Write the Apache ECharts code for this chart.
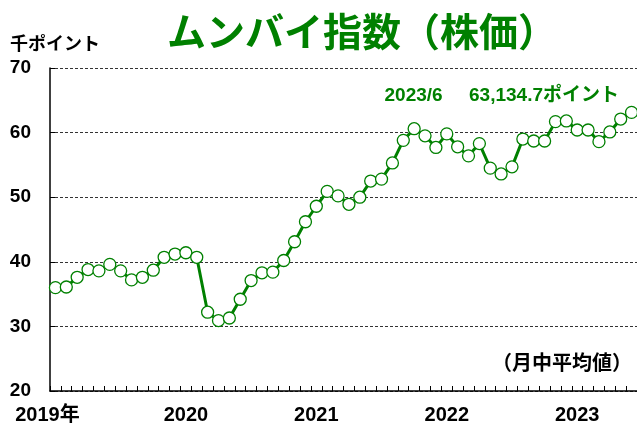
<!DOCTYPE html>
<html>
<head>
<meta charset="utf-8">
<script src="https://cdn.jsdelivr.net/npm/echarts@6/dist/echarts.min.js"></script>
<style>
  html, body { margin: 0; padding: 0; background: #fff; }
  #myChart { width: 637px; height: 430px; }
</style>
</head>
<body>
<div id="myChart"></div>
<script>
// 月中平均値 (千ポイント), 2019/1 - 2023/6
var months = [];
for (var y = 2019; y <= 2023; y++) {
  for (var m = 1; m <= 12; m++) {
    if (y === 2023 && m > 6) break;
    months.push(y + '/' + m);
  }
}
var indexValues = [
  36.0, 36.1, 37.6, 38.8, 38.6, 39.6, 38.6, 37.2, 37.6, 38.7, 40.7, 41.2,
  41.4, 40.7, 32.2, 30.9, 31.3, 34.2, 37.1, 38.3, 38.4, 40.2, 43.1, 46.2,
  48.6, 50.9, 50.2, 48.9, 50.0, 52.5, 52.8, 55.3, 58.8, 60.6, 59.5, 57.7,
  59.8, 57.8, 56.4, 58.3, 54.5, 53.6, 54.7, 59.0, 58.7, 58.7, 61.7, 61.8,
  60.4, 60.4, 58.6, 60.1, 62.1, 63.13
];
var yTicks = [20, 30, 40, 50, 60, 70];

var green = '#008000';
var latinFont = '"Liberation Sans", Arial, "Noto Sans CJK JP", sans-serif';
var cjkFont = '"Noto Sans CJK JP", sans-serif';

var option = {
  animation: false,
  backgroundColor: '#fff',
  title: {
    text: 'ムンバイ指数（株価）',
    left: 162,
    top: 7,
    textStyle: { color: green, fontSize: 39, fontWeight: 'bold', fontFamily: cjkFont }
  },
  graphic: [
    {
      type: 'text', left: 10, top: 34,
      style: { text: '千ポイント', fill: '#000', font: 'bold 18px ' + cjkFont }
    },
    {
      type: 'text', right: 18, top: 86,
      style: { text: '2023/6     63,134.7ポイント', fill: green, font: 'bold 19px ' + latinFont }
    },
    {
      type: 'text', right: 5, top: 352,
      style: { text: '（月中平均値）', fill: '#000', font: 'bold 20px ' + cjkFont }
    }
  ],
  grid: { left: 50, right: -4, top: 68, bottom: 39 },
  xAxis: {
    type: 'category',
    data: months,
    boundaryGap: true,
    axisLine: { lineStyle: { color: '#000', width: 1.5 } },
    axisTick: { show: true, inside: true, length: 5, interval: 0, alignWithLabel: false, lineStyle: { color: '#000', width: 1 } },
    axisLabel: {
      interval: 0,
      margin: 14,
      color: '#000',
      fontSize: 20,
      fontWeight: 'bold',
      fontFamily: latinFont,
      formatter: function (v, i) {
        var p = v.split('/');
        if (p[1] !== '1') return '';
        if (i === 0) return '{first|' + p[0] + '年}';
        return p[0];
      },
      rich: {
        first: { fontSize: 20, fontWeight: 'bold', fontFamily: latinFont, padding: [0, 16, 0, 0] }
      }
    },
    splitLine: { show: false }
  },
  yAxis: {
    type: 'value',
    min: yTicks[0],
    max: yTicks[yTicks.length - 1],
    interval: 10,
    axisLine: { show: true, lineStyle: { color: '#000', width: 1.5 } },
    axisTick: { show: true, inside: true, length: 5, lineStyle: { color: '#000' } },
    axisLabel: { margin: 19, color: '#000', fontSize: 19, fontWeight: 'bold', fontFamily: latinFont },
    splitLine: { show: true, lineStyle: { color: '#333', type: [3, 2], width: 1 } }
  },
  series: [{
    name: 'ムンバイ指数',
    type: 'line',
    data: indexValues,
    symbol: 'circle',
    symbolSize: 12,
    lineStyle: { color: green, width: 3 },
    itemStyle: { color: '#fff', borderColor: green, borderWidth: 1.3 },
    z: 3
  }]
};

var myChart = echarts.init(document.getElementById('myChart'));
myChart.setOption(option);
</script>
</body>
</html>
